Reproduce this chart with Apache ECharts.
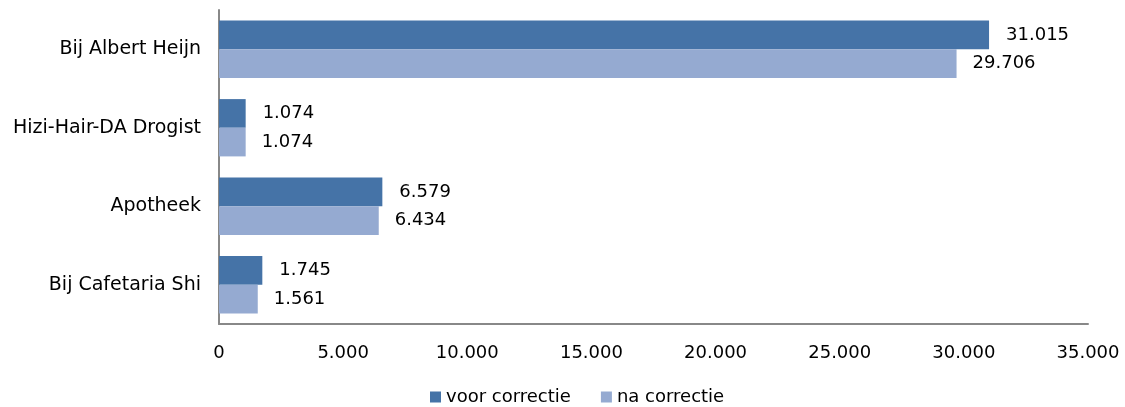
<!DOCTYPE html>
<html>
<head>
<meta charset="utf-8">
<script src="https://cdn.jsdelivr.net/npm/echarts@6/dist/echarts.min.js"></script>
<style>
  html, body { margin: 0; padding: 0; background: #fff; }
  #chart { width: 1125px; height: 407px; }
</style>
</head>
<body>
<div id="chart"></div>
<script>
// categories top to bottom
var categories = ['Bij Albert Heijn', 'Hizi-Hair-DA Drogist', 'Apotheek', 'Bij Cafetaria Shi'];
var voorCorrectie = [31015, 1074, 6579, 1745];
var naCorrectie = [29706, 1074, 6434, 1561];
var seriesNames = ['voor correctie', 'na correctie'];

// 31015 -> 31.015
function dotThousands(v) {
    return String(v).replace(/\B(?=(\d{3})+(?!\d))/g, '.');
}

var font = 'DejaVu Sans, Verdana, sans-serif';

var option = {
    animation: false,
    textStyle: { fontFamily: font },
    grid: {
        left: 219,
        top: 10,
        right: 37,
        bottom: 83
    },
    legend: {
        data: seriesNames,
        bottom: 1,
        padding: 0,
        left: 430,
        itemWidth: 11,
        itemHeight: 11,
        itemGap: 30,
        icon: 'rect',
        textStyle: { fontFamily: font, fontSize: 18, color: '#000' }
    },
    xAxis: {
        type: 'value',
        min: 0,
        max: 35000,
        interval: 5000,
        axisLine: { show: true, lineStyle: { color: '#888', width: 2 } },
        axisTick: { show: false },
        splitLine: { show: false },
        axisLabel: {
            margin: 20,
            fontSize: 18,
            color: '#000',
            formatter: dotThousands
        }
    },
    yAxis: {
        type: 'category',
        inverse: true,
        data: categories,
        axisLine: { show: true, lineStyle: { color: '#888', width: 2 } },
        axisTick: { show: false },
        axisLabel: { margin: 18, fontSize: 19, color: '#000' }
    },
    series: [
        {
            name: seriesNames[0],
            type: 'bar',
            data: voorCorrectie,
            barGap: '0%',
            barCategoryGap: '27%',
            itemStyle: { color: '#4573A7' },
            label: {
                show: true,
                position: 'right',
                distance: 17,
                fontSize: 18,
                color: '#000',
                formatter: function (p) { return dotThousands(p.value); }
            }
        },
        {
            name: seriesNames[1],
            type: 'bar',
            data: naCorrectie,
            barGap: '0%',
            barCategoryGap: '27%',
            itemStyle: { color: '#95AAD1' },
            label: {
                show: true,
                position: 'right',
                distance: 16,
                fontSize: 18,
                color: '#000',
                formatter: function (p) { return dotThousands(p.value); }
            }
        }
    ]
};

var chart = echarts.init(document.getElementById('chart'));
chart.setOption(option);
</script>
</body>
</html>
